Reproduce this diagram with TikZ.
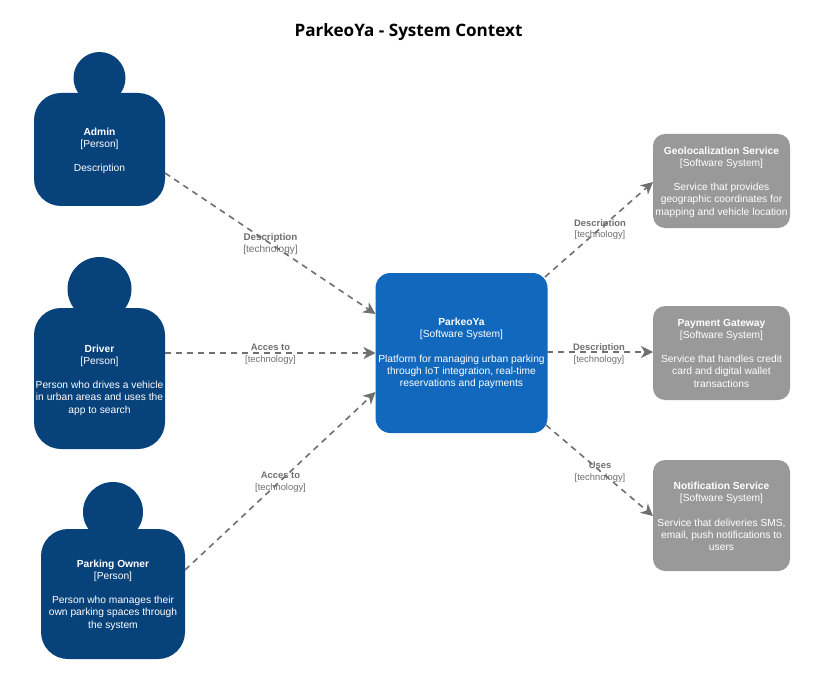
\documentclass[tikz,border=0pt]{standalone}
\usepackage{fontspec}
\setmainfont{Liberation Sans}
\newfontfamily\titlefont{Open Sans}
\usetikzlibrary{arrows.meta}
\definecolor{personblue}{HTML}{08427B}
\definecolor{sysblue}{HTML}{1168BD}
\definecolor{extgrey}{HTML}{999999}
\definecolor{linegrey}{HTML}{707070}
\tikzset{
  x=1pt,y=-1pt,
  boxbase/.style={inner sep=0pt,outer sep=0pt,align=center,text=white,font=\fontsize{10.25}{12.2}\selectfont},
  personbody/.style={boxbase,fill=personblue,rounded corners=27pt},
  personhead/.style={circle,fill=personblue,inner sep=0pt,outer sep=0pt},
  mainsys/.style={boxbase,fill=sysblue,rounded corners=15pt,minimum width=172pt,minimum height=160pt},
  extsys/.style={boxbase,fill=extgrey,rounded corners=12pt,minimum width=137pt},
  rel/.style={draw=linegrey,line width=1.6pt,dash pattern=on 6pt off 5pt,-{Stealth[length=12pt,width=12pt,inset=3.5pt]}},
  rellabel/.style={text=linegrey,align=center,inner sep=0pt,font=\fontsize{9.4}{11.5}\selectfont},
  rellabelbig/.style={text=linegrey,align=center,inner sep=0pt,font=\fontsize{10.1}{12}\selectfont}
}
\newcommand{\reltext}[2]{\textbf{#1}\\{[#2]}}
\newcommand{\reltextb}[2]{{\fontsize{9.8}{12}\selectfont\textbf{#1}}\\{[#2]}}
\begin{document}
\begin{tikzpicture}
\useasboundingbox (0,0) rectangle (834,676);
\fill[white] (0,0) rectangle (834,676);
\node[font=\titlefont\fontsize{17.1}{20}\selectfont\bfseries,text=black,inner sep=0pt] (title) at (408.5,32.5) {ParkeoYa - System Context};

% persons
\node[personhead,minimum size=52pt] (adminhead) at (99.5,78) {};
\node[personbody,minimum width=131pt,minimum height=113pt] (admin) at (99.5,149.5) {};
\node[boxbase] (admintext) at (99.5,150.7) {\textbf{Admin}\\{[Person]}\\ \mbox{}\\Description};
\node[personhead,minimum size=64pt] (driverhead) at (99.5,289) {};
\node[personbody,minimum width=131pt,minimum height=141pt] (driver) at (99.5,378.5) {};
\node[boxbase] (drivertext) at (99.5,380) {\textbf{Driver}\\{[Person]}\\ \mbox{}\\Person who drives a vehicle\\in urban areas and uses the\\app to search};
\node[personhead,minimum size=60pt] (ownerhead) at (113,512) {};
\node[personbody,minimum width=144pt,minimum height=130pt] (owner) at (113,594) {};
\node[boxbase] (ownertext) at (113,595) {\textbf{Parking Owner}\\{[Person]}\\ \mbox{}\\Person who manages their\\own parking spaces through\\the system};

% systems
\node[mainsys] (parkeoya) at (461.5,353) {};
\node[boxbase] (parkeoyatext) at (461.5,353.5) {\textbf{ParkeoYa}\\{[Software System]}\\ \mbox{}\\Platform for managing urban parking\\through IoT integration, real-time\\reservations and payments};
\node[extsys,minimum height=94pt] (geo) at (721.5,181) {};
\node[boxbase] (geotext) at (721.5,182) {\textbf{Geolocalization Service}\\{[Software System]}\\ \mbox{}\\Service that provides\\geographic coordinates for\\mapping and vehicle location};
\node[extsys,minimum height=94pt] (pay) at (721.5,353) {};
\node[boxbase] (paytext) at (721.5,353) {\textbf{Payment Gateway}\\{[Software System]}\\ \mbox{}\\Service that handles credit\\card and digital wallet\\transactions};
\node[extsys,minimum height=111pt] (notif) at (721.5,515.5) {};
\node[boxbase] (notiftext) at (721.5,516.5) {\textbf{Notification Service}\\{[Software System]}\\ \mbox{}\\Service that deliveries SMS,\\email, push notifications to\\users};

% connector ends on the shape borders
\coordinate (adminout) at (165,173);
\coordinate (adminin) at (375.5,314);
\coordinate (driverout) at (165,353);
\coordinate (driverin) at (375.5,353);
\coordinate (ownerout) at (185,570);
\coordinate (ownerin) at (375.5,392);
\coordinate (geoout) at (545,277);
\coordinate (geoin) at (653,182);
\coordinate (payout) at (547,352);
\coordinate (payin) at (653,352);
\coordinate (notifout) at (546,425);
\coordinate (notifin) at (653,516);

\draw[rel] (adminout) -- (adminin);
\draw[rel] (driverout) -- (driverin);
\draw[rel] (ownerout) -- (ownerin);
\draw[rel] (geoout) -- (geoin);
\draw[rel] (payout) -- (payin);
\draw[rel] (notifout) -- (notifin);

\node[rellabelbig] (l1) at (270.5,244) {\reltextb{Description}{technology}};
\node[rellabel] (l2) at (270.5,354) {\reltext{Acces to}{technology}};
\node[rellabel] (l3) at (280.5,482) {\reltext{Acces to}{technology}};
\node[rellabel] (l4) at (600,229.5) {\reltext{Description}{technology}};
\node[rellabel] (l5) at (599,354) {\reltext{Description}{technology}};
\node[rellabel] (l6) at (600,472) {\reltext{Uses}{technology}};
\end{tikzpicture}
\end{document}
